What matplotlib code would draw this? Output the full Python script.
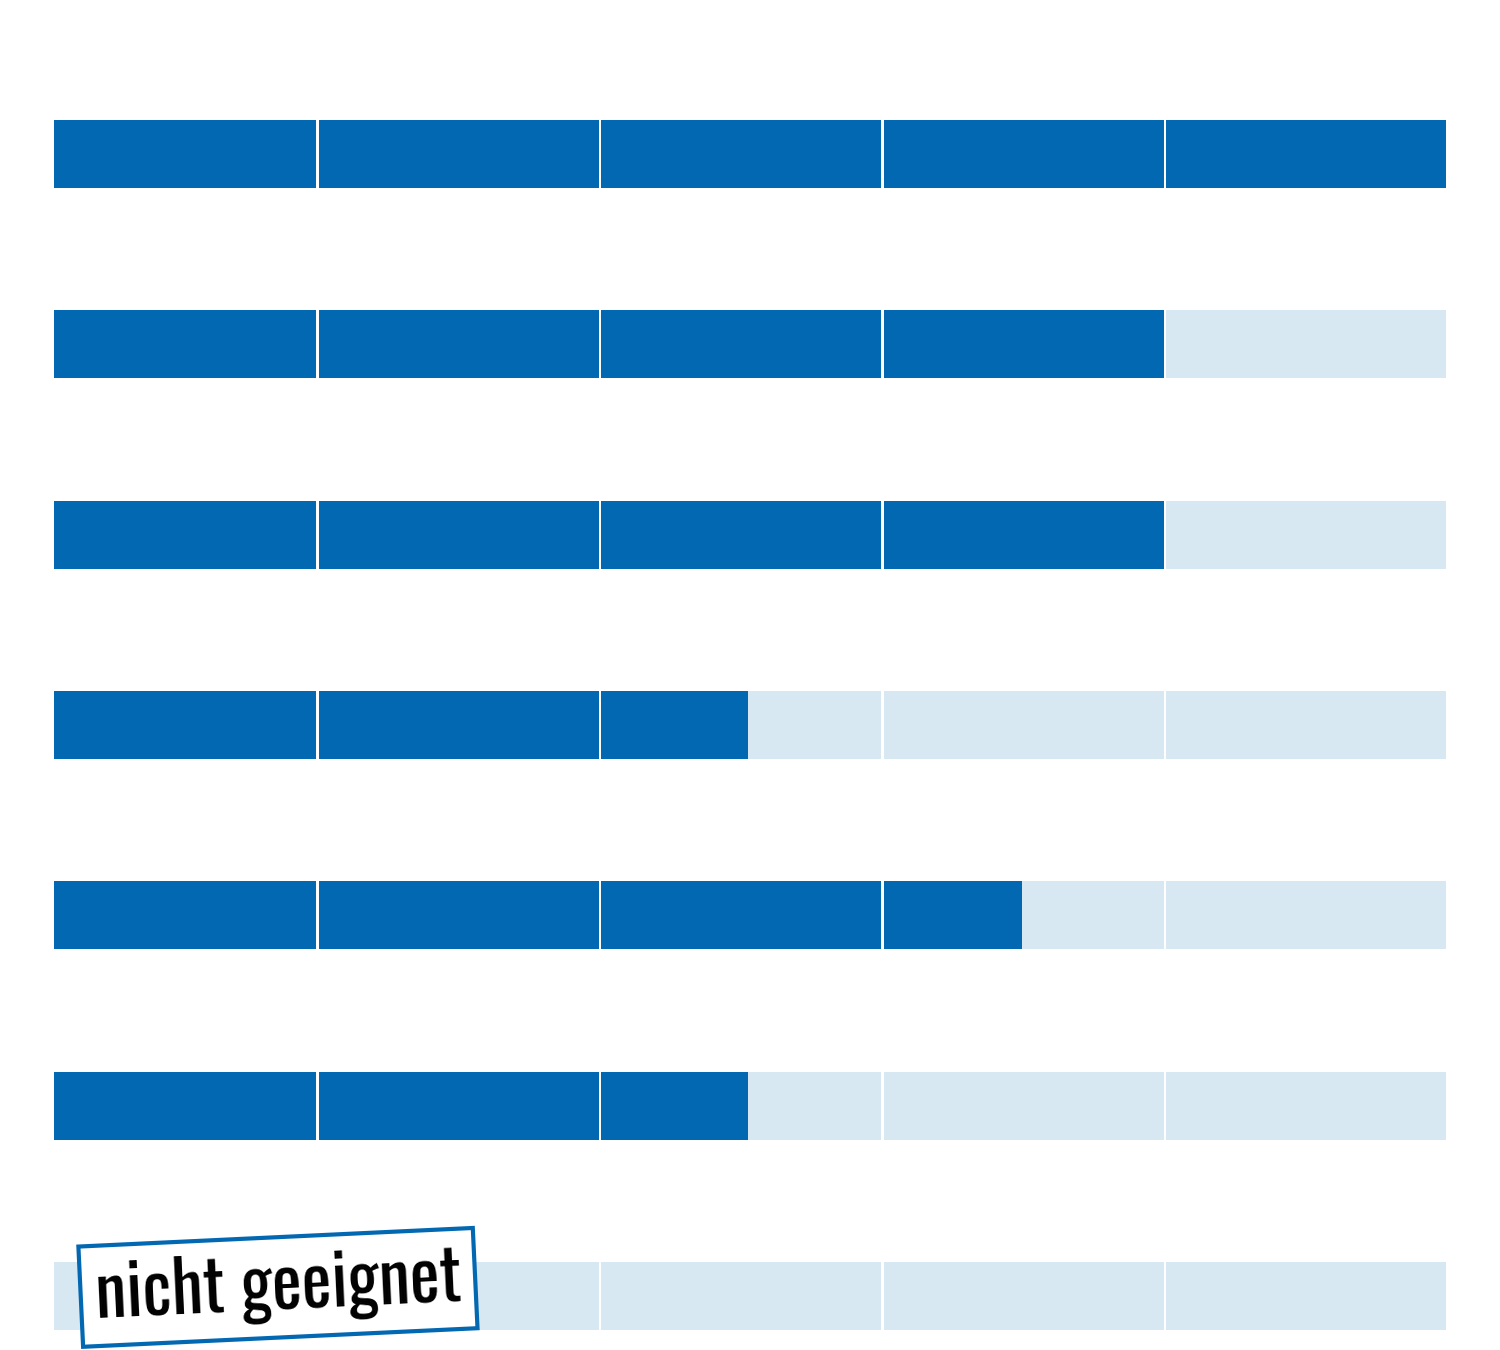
import matplotlib.pyplot as plt
from matplotlib import font_manager

# rating per row, 0..5 (filled segments)
ratings = [5, 4, 4, 2.53, 3.5, 2.53, 0]
n_segments = 5
stamp_text = "nicht geeignet"

dark = "#0368b2"
light = "#d8e8f3"

# pick a narrow face for the stamp if one is installed
fonts = font_manager.fontManager.ttflist
names = {f.name for f in fonts}
stamp_font, stamp_stretch, stamp_size = "DejaVu Sans", "normal", 43
for cand in ["Oswald", "Roboto Condensed", "Open Sans Condensed", "Liberation Sans Narrow",
             "Noto Sans Condensed", "DejaVu Sans Condensed"]:
    if cand in names:
        stamp_font, stamp_size = cand, 51
        break
else:
    if any(f.name == "DejaVu Sans" and f.stretch == "condensed" for f in fonts):
        stamp_stretch, stamp_size = "condensed", 52

fig = plt.figure(figsize=(15, 13.5), dpi=100)
ax = fig.add_axes([0.036, 0.0, 0.928, 1.0])

gap = 0.0085
h = 0.357
for row, val in enumerate(ratings):
    for k in range(n_segments):
        ax.barh(row, 1 - gap, left=k + gap, height=h, color=light, edgecolor="none")
        fill = min(1.0, max(0.0, val - k))
        if fill > 0:
            ax.barh(row, fill - gap, left=k + gap, height=h, color=dark, edgecolor="none")

ax.set_xlim(0.071, 5.0)
ax.set_ylim(6.284, -0.809)
ax.axis("off")

# stamp over the last row
ax.text(0.864, 5.955, stamp_text, fontsize=stamp_size, family=[stamp_font, "DejaVu Sans"],
        fontstretch=stamp_stretch, fontweight="light",
        rotation=2.7, rotation_mode="anchor", ha="center", va="center",
        color="black",
        bbox=dict(boxstyle="square,pad=0.2", facecolor="white",
                  edgecolor=dark, linewidth=3))

fig.savefig("out.png", dpi=100)
